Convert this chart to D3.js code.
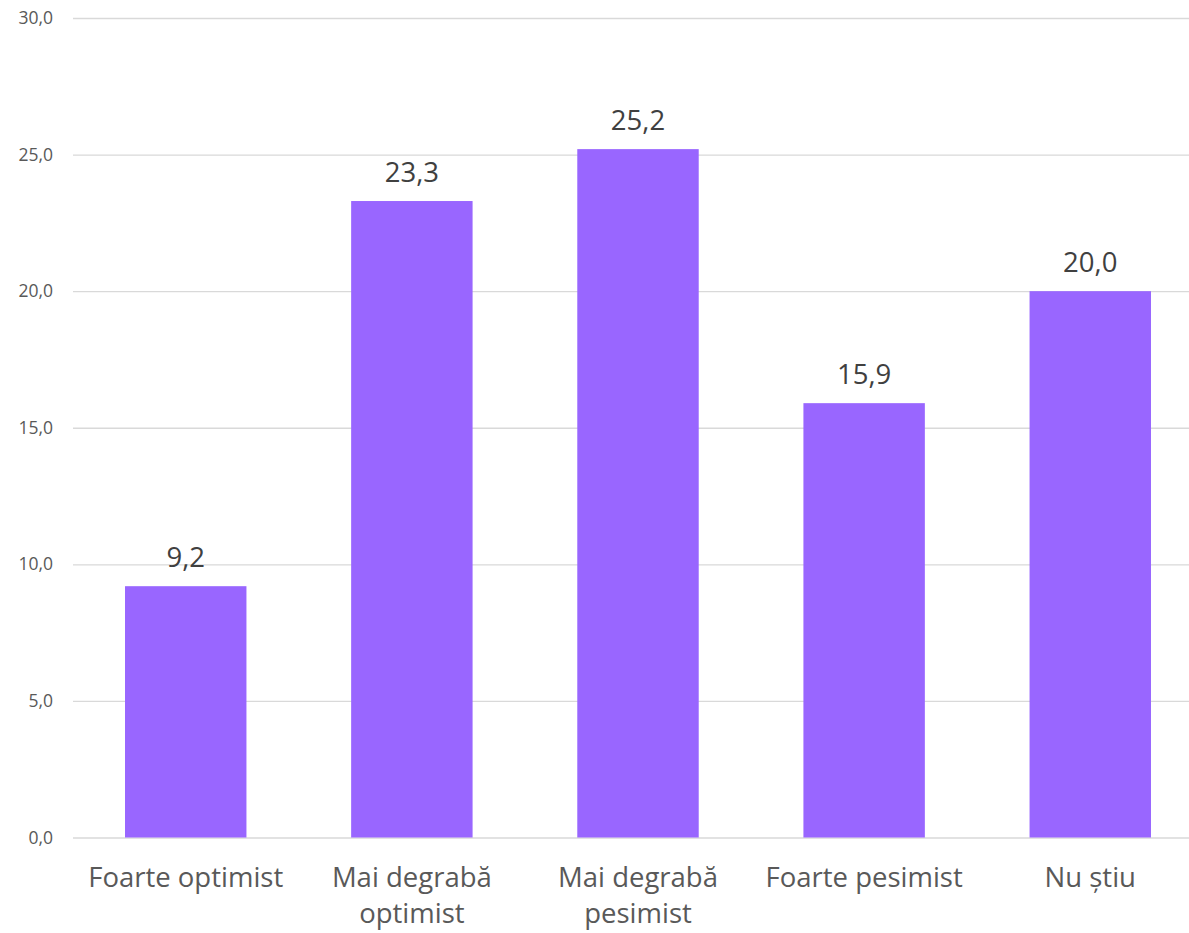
<!DOCTYPE html>
<html><head><meta charset="utf-8">
<script src="https://cdn.jsdelivr.net/npm/d3@7"></script>
<style>body{margin:0;background:#fff}svg{display:block}</style>
</head><body><svg id="c" width="1189" height="933"></svg>
<script>
const categories = [["Foarte optimist"], ["Mai degrabă", "optimist"], ["Mai degrabă", "pesimist"], ["Foarte pesimist"], ["Nu știu"]];
const values = [9.2, 23.3, 25.2, 15.9, 20.0];
const yTicks = [0, 5, 10, 15, 20, 25, 30];

const svg = d3.select("#c");
const font = "'Open Sans', 'Noto Sans', sans-serif";
const mLeft = 73, mRight = 1203, mTop = 18, mBottom = 837.5;
const x = d3.scaleBand().domain(d3.range(categories.length)).range([mLeft, mRight]).paddingInner(0.463).paddingOuter(0.23);
const y = d3.scaleLinear().domain([0, 30]).range([mBottom, mTop]);
const fmt = v => v.toFixed(1).replace(".", ",");

const yAxis = svg.append("g").attr("transform", `translate(${mLeft},0)`)
  .call(d3.axisLeft(y).tickValues(yTicks).tickFormat(fmt).tickSize(-(mRight-mLeft)).tickPadding(20));
yAxis.select(".domain").remove();
yAxis.selectAll("line").attr("stroke", "#d9d9d9").attr("stroke-width", 1.3);
yAxis.selectAll("text").attr("fill", "#595959").style("font-family", font).style("font-size", "17.5px");

svg.append("g").selectAll("rect").data(values).join("rect")
  .attr("x", (d,i) => x(i)).attr("width", x.bandwidth())
  .attr("y", d => y(d)).attr("height", d => y(0) - y(d))
  .attr("fill", "#9966ff");

svg.append("g").selectAll("text").data(values).join("text")
  .attr("x", (d,i) => x(i) + x.bandwidth()/2).attr("y", d => y(d) - 19.5)
  .attr("text-anchor", "middle").attr("fill", "#404040")
  .style("font-family", font).style("font-size", "27.5px").text(fmt);

const xl = svg.append("g").selectAll("text").data(categories).join("text")
  .attr("x", (d,i) => x(i) + x.bandwidth()/2).attr("y", 887)
  .attr("text-anchor", "middle").attr("fill", "#595959")
  .style("font-family", font).style("font-size", "27.5px");
xl.selectAll("tspan").data(d => d).join("tspan")
  .attr("x", function(){ return this.parentNode.getAttribute("x"); })
  .attr("dy", (d,i) => i ? 36 : 0).text(d => d);
</script></body></html>
